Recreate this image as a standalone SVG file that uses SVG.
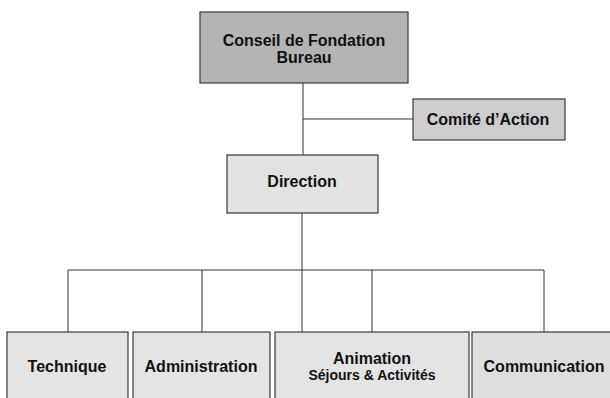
<svg xmlns="http://www.w3.org/2000/svg" width="610" height="398" viewBox="0 0 610 398">
<style>
.box{stroke:#3a3a3a;stroke-width:1.2}
.t{font-family:"Liberation Sans",Arial,sans-serif;font-weight:bold;font-size:16px;fill:#111;text-anchor:middle}
.s{font-size:14px}
.c{fill:none;stroke:#333;stroke-width:1}
</style>
<rect width="610" height="398" fill="#fff"/>
<g id="connectors">
<path class="c" d="M303 83V155M303 119H413M302 213V270M68 270H544M68 270V332M202 270V332M302 270V332M372 270V332M544 270V332"/>
</g>
<g id="conseil">
<rect class="box" x="200" y="12" width="208" height="71" fill="#b4b4b4"/>
<text class="t" x="304" y="46">Conseil de Fondation</text>
<text class="t" x="304" y="63">Bureau</text>
</g>
<g id="comite">
<rect class="box" x="413" y="99" width="152" height="41" fill="#cdcdcd"/>
<text class="t" x="488" y="125">Comité d’Action</text>
</g>
<g id="direction">
<rect class="box" x="227" y="155" width="151" height="58" fill="#e2e2e2"/>
<text class="t" x="302" y="187">Direction</text>
</g>
<g id="technique">
<rect class="box" x="7" y="332" width="121" height="80" fill="#e4e4e4"/>
<text class="t" x="67" y="372">Technique</text>
</g>
<g id="administration">
<rect class="box" x="133" y="332" width="137" height="80" fill="#e4e4e4"/>
<text class="t" x="201" y="372">Administration</text>
</g>
<g id="animation">
<rect class="box" x="275" y="332" width="194" height="80" fill="#e4e4e4"/>
<text class="t" x="372" y="364">Animation</text>
<text class="t s" x="372" y="380">Séjours &amp; Activités</text>
</g>
<g id="communication">
<rect class="box" x="472" y="332" width="145" height="80" fill="#dedede"/>
<text class="t" x="544" y="372">Communication</text>
</g>
</svg>
